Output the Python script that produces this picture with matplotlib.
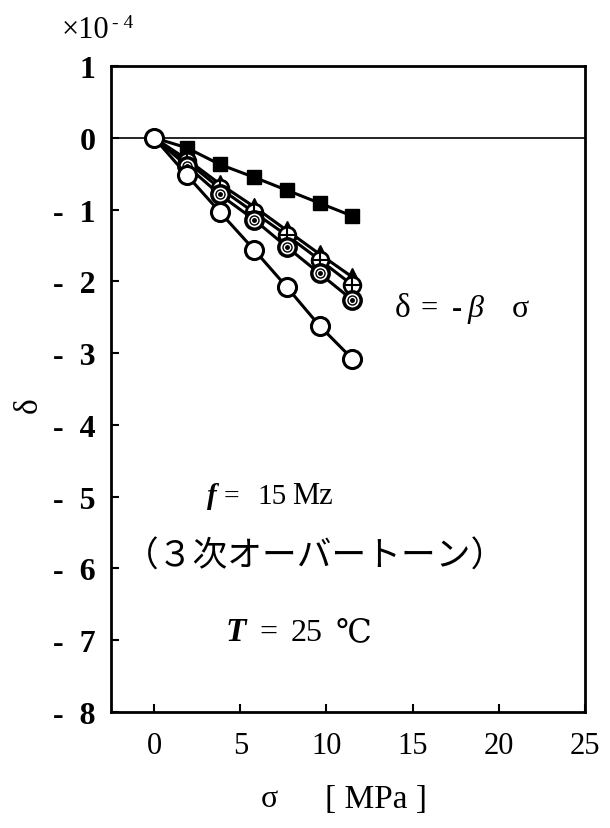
import matplotlib
matplotlib.use("Agg")
import matplotlib.pyplot as plt

# ---- data (sigma in MPa, delta in 1e-4) ----
sigma = [0, 1.9, 3.8, 5.8, 7.7, 9.6, 11.5]
d_square = [0, -0.14, -0.37, -0.55, -0.73, -0.91, -1.09]
d_triangle = [0, -0.30, -0.64, -0.96, -1.29, -1.62, -1.94]
d_oplus = [0, -0.33, -0.70, -1.04, -1.36, -1.70, -2.05]
d_odot = [0, -0.39, -0.79, -1.14, -1.52, -1.89, -2.26]
d_open = [0, -0.52, -1.03, -1.56, -2.08, -2.62, -3.08]

xticks = [0, 5, 10, 15, 20, 25]
yticks = [1, 0, -1, -2, -3, -4, -5, -6, -7, -8]
ytick_labels = ["1", "0", "-  1", "-  2", "-  3", "-  4", "-  5", "-  6", "-  7", "-  8"]

W, H = 610, 829
fig = plt.figure(figsize=(W / 100, H / 100), dpi=100)
ax = fig.add_axes([111 / W, 1 - 713 / H, (585 - 111) / W, (713 - 67) / H])

serif = ["Liberation Serif", "DejaVu Serif"]

ax.axhline(0, color="black", lw=1.2, zorder=1)

lw = 2.2
ax.plot(sigma, d_square, color="black", lw=lw, marker="s", ms=10.5,
        mfc="black", mec="black", markevery=slice(1, None), zorder=3)
ax.plot(sigma, d_triangle, color="black", lw=lw, marker="^", ms=13,
        mfc="black", mec="black", markevery=slice(1, None), zorder=3)
ax.plot(sigma, d_oplus, color="black", lw=lw, marker="o", ms=12,
        mfc="white", mec="black", mew=2, markevery=slice(1, None), zorder=4)
ax.plot(sigma[1:], d_oplus[1:], ls="none", marker="+", ms=11, mec="black",
        mew=1.5, zorder=4.1)
ax.plot(sigma, d_odot, color="black", lw=lw, marker="o", ms=12.5,
        mfc="white", mec="black", mew=2.5, markevery=slice(1, None), zorder=5)
ax.plot(sigma[1:], d_odot[1:], ls="none", marker="o", ms=6.5, mfc="none",
        mec="black", mew=1, zorder=5.1)
ax.plot(sigma[1:], d_odot[1:], ls="none", marker="o", ms=2.5, mfc="black",
        mec="black", zorder=5.2)
ax.plot(sigma, d_open, color="black", lw=lw, marker="o", ms=13,
        mfc="white", mec="black", mew=2.2, zorder=6)

ax.set_xlim(-2.5, 25)
ax.set_ylim(-8, 1)
ax.set_xticks(xticks)
ax.set_xticklabels([str(t) for t in xticks], fontfamily=serif, fontsize=22)
ax.set_yticks(yticks)
ax.set_yticklabels(ytick_labels, fontfamily=serif, fontsize=23, fontweight="bold")
ax.tick_params(axis="both", direction="in", length=6, width=1.5,
               top=False, right=False)
ax.tick_params(axis="x", pad=14)
ax.tick_params(axis="y", pad=11)
for s in ax.spines.values():
    s.set_linewidth(2)

def t(x, y, s, size, ha="left", va="baseline", **kw):
    kw.setdefault("fontfamily", serif)
    fig.text(x / W, 1 - y / H, s, fontsize=size, ha=ha, va=va, **kw)

# axis labels
t(28, 405, "δ", 24, ha="center", va="center", rotation=90)
t(269, 800, "σ", 23, ha="center", va="center")
t(376, 800, "[ MPa ]", 24, ha="center", va="center")

# exponent
t(62, 30, "×10", 22, va="center")
t(112, 23, "- 4", 14, va="center")

# relation
t(395, 317, "δ", 24)
t(421, 317, "=", 22)
t(452, 317, "-", 22, fontweight="bold")
t(468, 317, "β", 23, fontstyle="italic")
t(512, 317, "σ", 23)

# conditions
t(207, 504, "f", 21, fontstyle="italic", fontweight="bold")
t(224, 504, "=", 20)
t(257, 504, "15", 21)
t(292, 504, "Mz", 22)
t(315, 557, "（３次オーバートーン）", 25, ha="center", va="center",
  fontfamily=["Noto Sans CJK JP", "DejaVu Sans"])
t(226, 641, "T", 24, fontstyle="italic", fontweight="bold")
t(259, 641, "=", 23)
t(291, 641, "25", 23)
t(336, 641, "℃", 23)

fig.savefig("out.png", dpi=100)
